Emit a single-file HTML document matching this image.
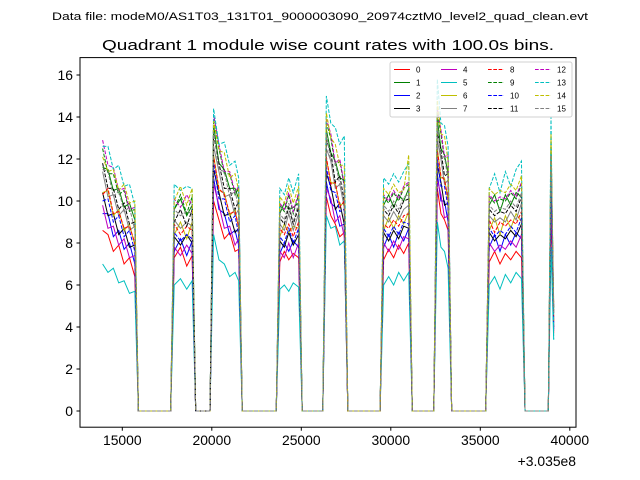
<!DOCTYPE html>
<html><head><meta charset="utf-8"><style>
html,body{margin:0;padding:0;background:#fff}
svg{display:block;font-family:"Liberation Sans","DejaVu Sans",sans-serif}
</style></head><body>
<svg id="chart" width="640" height="480" viewBox="0 0 640 480" xmlns="http://www.w3.org/2000/svg">
<rect x="0" y="0" width="640" height="480" fill="#fff"/>
<text x="320" y="20" text-anchor="middle" font-size="11" textLength="536" lengthAdjust="spacingAndGlyphs">Data file: modeM0/AS1T03_131T01_9000003090_20974cztM0_level2_quad_clean.evt</text>
<text x="328" y="50" text-anchor="middle" font-size="15" textLength="452" lengthAdjust="spacingAndGlyphs">Quadrant 1 module wise count rates with 100.0s bins.</text>
<defs><clipPath id="clip"><rect x="80" y="57.6" width="496" height="369.6"/></clipPath></defs>
<g id="series" clip-path="url(#clip)"></g>
<g id="axes"></g>
<rect x="80" y="57.6" width="496" height="369.6" fill="none" stroke="#000" stroke-width="1"/>
<g id="legend"></g>
<text x="576" y="466" text-anchor="end" font-size="13.9">+3.035e8</text>
</svg>
<script>
const times=[13900,14200,14500,14800,15100,15400,15700,15900,17700,17900,18250,18600,18900,19100,19900,20100,20400,20700,21000,21300,21500,21700,23600,23800,24050,24300,24550,24850,25050,26200,26400,26650,26900,27150,27400,27600,29400,29600,29880,30160,30440,30720,31000,31200,32400,32600,32800,33000,33200,33400,35300,35500,35800,36100,36400,36700,37000,37300,37500,38800,38950,39100];
const s0=[8.6,8.4,7.6,7.9,7.0,7.3,6.4,0,0,7.3,7.8,6.9,7.4,0,0,10.0,9.1,8.2,8.5,7.6,7.7,0,0,7.1,7.6,7.2,7.5,7.3,0,0,10.2,9.3,8.9,8.3,8.5,0,0,7.2,7.7,7.3,7.9,7.5,8.0,0,0,10.6,9.4,9.1,8.6,0,0,7.1,7.6,7.0,7.5,7.2,7.6,7.3,0,0,9.5,3.7];
const s1=[11.6,11.5,10.5,10.6,9.7,9.9,9.1,0,0,9.6,10.1,9.3,9.8,0,0,13.6,11.8,11.5,10.6,10.6,10.1,0,0,9.4,9.9,9.6,9.7,9.9,0,0,13.4,12.3,11.9,11.1,11.0,0,0,9.8,10.3,9.7,10.3,10.0,10.6,0,0,13.9,12.5,12.2,11.3,0,0,9.8,10.3,9.5,10.3,9.8,10.4,10.2,0,0,12.5,4.8];
const s2=[9.4,9.4,8.3,8.6,7.7,8.0,7.0,0,0,7.6,8.2,7.4,8.1,0,0,11.1,9.6,9.4,8.4,8.6,7.9,0,0,7.5,8.0,7.6,8.1,7.8,0,0,10.9,9.9,9.7,8.8,8.9,0,0,7.8,8.4,7.8,8.5,8.1,8.7,0,0,11.3,10.0,10.0,9.0,0,0,7.8,8.4,7.6,8.4,7.9,8.5,8.2,0,0,10.1,3.9];
const s3=[10.4,9.3,9.4,8.4,8.7,7.8,7.9,0,0,8.3,7.9,8.4,8.0,0,0,11.5,10.4,9.3,9.4,8.5,8.7,0,0,8.1,7.8,8.5,7.9,8.4,0,0,11.3,10.7,9.6,9.9,8.9,0,0,8.5,8.1,8.6,8.2,8.8,8.7,0,0,11.7,10.9,9.8,9.9,0,0,8.5,8.1,8.4,8.2,8.6,8.3,8.9,0,0,10.5,4.0];
const s4=[9.8,8.7,8.8,7.9,8.2,7.3,7.4,0,0,7.8,7.4,7.9,7.5,0,0,10.8,9.8,8.7,8.8,7.9,8.2,0,0,7.6,7.3,8.0,7.3,8.0,0,0,10.6,10.1,9.0,9.3,8.3,0,0,8.0,7.6,8.1,7.7,8.3,8.2,0,0,11.0,10.3,9.2,9.3,0,0,8.0,7.6,7.9,7.7,8.1,7.8,8.4,0,0,9.9,3.8];
const s5=[7.0,6.6,6.8,6.1,6.2,5.6,5.7,0,0,6.0,6.3,5.8,6.2,0,0,8.4,7.2,7.0,6.4,6.6,6.2,0,0,5.8,6.0,5.7,6.1,5.9,0,0,9.3,8.7,8.8,7.9,8.1,0,0,6.0,6.4,6.0,6.6,6.2,6.6,0,0,9.0,7.8,7.6,6.8,0,0,6.0,6.4,5.8,6.5,6.1,6.6,6.3,0,0,7.8,3.4];
const s6=[10.4,10.5,9.3,9.6,8.6,8.9,7.9,0,0,8.4,9.0,8.2,9.0,0,0,12.2,10.5,10.4,9.3,9.6,8.7,0,0,8.3,8.9,8.5,8.8,8.7,0,0,12.0,10.9,10.8,9.8,9.9,0,0,8.6,9.2,8.7,9.3,8.9,9.5,0,0,12.5,11.1,11.1,10.0,0,0,8.6,9.2,8.4,9.3,8.7,9.4,9.0,0,0,11.2,4.3];
const s7=[11.4,10.2,10.3,9.3,9.6,8.6,8.8,0,0,9.1,8.7,9.0,8.8,0,0,12.6,11.4,10.2,10.3,9.3,9.6,0,0,8.9,8.6,9.4,8.6,9.4,0,0,12.5,11.9,10.6,10.8,9.7,0,0,9.3,9.0,9.5,9.1,9.6,9.8,0,0,12.9,12.0,10.8,11.0,0,0,9.3,9.0,9.2,9.0,9.5,9.1,9.9,0,0,11.6,4.4];
const s8=[10.3,10.6,9.4,9.5,8.7,8.8,8.0,0,0,8.9,8.4,8.8,8.6,0,0,12.1,10.6,10.3,9.4,9.5,8.8,0,0,8.7,8.4,8.9,8.3,9.0,0,0,12.1,10.8,10.9,9.7,10.0,0,0,8.9,8.7,9.1,8.8,9.3,9.4,0,0,12.4,11.2,11.0,10.1,0,0,9.1,8.5,9.0,8.8,9.1,8.9,9.5,0,0,11.1,4.3];
const s9=[12.5,11.3,11.3,10.3,10.5,9.5,9.6,0,0,9.6,10.3,9.4,10.2,0,0,13.9,12.5,11.3,11.3,10.3,10.6,0,0,9.8,9.5,10.3,9.4,10.3,0,0,13.7,13.0,11.7,11.9,10.7,0,0,10.2,9.9,10.4,10.0,10.6,10.8,0,0,14.2,13.2,12.0,12.1,0,0,10.2,9.9,10.1,10.0,10.4,10.1,10.8,0,0,12.7,4.9];
const s10=[10.0,10.1,9.0,9.3,8.3,8.6,7.6,0,0,8.5,8.1,8.4,8.2,0,0,11.8,10.1,10.1,9.0,9.3,8.4,0,0,8.3,8.0,8.7,8.0,8.7,0,0,11.6,10.5,10.4,9.5,9.6,0,0,8.7,8.3,8.8,8.4,9.0,8.9,0,0,12.0,10.7,10.7,9.7,0,0,8.7,8.3,8.6,8.4,8.8,8.5,9.2,0,0,10.8,4.2];
const s11=[11.8,10.6,10.6,9.6,9.9,8.9,9.0,0,0,9.0,9.6,8.8,9.6,0,0,13.1,11.8,10.6,10.6,9.6,10.0,0,0,9.2,8.9,9.7,8.9,9.7,0,0,12.9,12.3,10.9,11.2,10.0,0,0,9.6,9.3,9.8,9.4,10.0,10.1,0,0,13.3,12.4,11.2,11.3,0,0,9.6,9.3,9.5,9.4,9.8,9.5,10.2,0,0,12.0,4.6];
const s12=[12.9,11.7,11.6,10.5,10.6,9.6,9.7,0,0,10.1,9.7,10.3,9.8,0,0,14.1,12.7,11.4,11.4,10.4,10.7,0,0,9.9,9.6,10.4,9.5,10.4,0,0,13.9,13.2,11.8,12.0,10.8,0,0,10.3,10.0,10.5,10.1,10.7,10.9,0,0,14.4,13.4,12.1,12.2,0,0,10.3,10.0,10.2,10.1,10.5,10.2,10.9,0,0,12.9,5.0];
const s13=[12.6,12.6,11.5,11.7,10.7,10.8,9.8,0,0,10.8,10.5,10.7,10.6,0,0,14.4,12.7,12.8,11.7,11.9,11.1,0,0,10.6,10.3,11.1,10.4,11.3,0,0,15.0,13.7,13.5,12.7,13.1,0,0,11.1,10.8,11.3,10.9,11.4,11.8,0,0,15.8,13.7,13.6,12.6,0,0,10.6,11.3,10.4,11.4,10.7,11.5,11.9,0,0,14.0,3.4];
const s14=[12.1,11.4,11.5,10.5,10.8,9.9,10.0,0,0,10.0,10.7,9.8,10.6,0,0,13.8,12.4,12.3,11.1,11.3,10.5,0,0,10.2,9.9,10.7,9.9,10.7,0,0,14.2,13.0,12.7,11.7,11.7,0,0,10.6,10.3,10.8,10.4,10.5,12.2,0,0,14.8,13.2,13.1,11.9,0,0,10.6,10.3,10.5,10.4,10.8,10.5,11.2,0,0,13.2,5.1];
const s15=[11.5,11.4,10.2,10.5,9.5,9.7,8.6,0,0,9.6,9.3,9.5,9.4,0,0,13.3,11.5,11.4,10.2,10.5,9.6,0,0,9.4,9.1,9.9,9.0,9.9,0,0,13.2,11.9,11.8,10.8,10.8,0,0,9.8,9.5,10.0,9.6,10.2,10.3,0,0,13.6,12.1,12.1,11.0,0,0,9.8,9.5,9.7,9.6,10.0,9.7,10.4,0,0,12.2,4.7];
const seriesValues=[s0,s1,s2,s3,s4,s5,s6,s7,s8,s9,s10,s11,s12,s13,s14,s15];
const seriesLabels=["0","1","2","3","4","5","6","7","8","9","10","11","12","13","14","15"];
const xTicks=[15000,20000,25000,30000,35000,40000];
const yTicks=[0,2,4,6,8,10,12,14,16];

const colors=["#ff0000","#008000","#0000ff","#000000","#bf00bf","#00bfbf","#bfbf00","#808080"];
const NS="http://www.w3.org/2000/svg";
function xs(v){return 122.3+(v-15000)*0.0179;}
function ys(v){return 411-21*v;}
const sg=document.getElementById('series');
seriesValues.forEach((vals,i)=>{
  const p=document.createElementNS(NS,'polyline');
  p.setAttribute('points',vals.map((v,k)=>xs(times[k]).toFixed(2)+','+ys(v).toFixed(2)).join(' '));
  p.setAttribute('fill','none');
  p.setAttribute('stroke',colors[i%8]);
  p.setAttribute('stroke-width','1');
  if(i>=8)p.setAttribute('stroke-dasharray','3.7,1.6');
  
  
  sg.appendChild(p);
});
const ax=document.getElementById('axes');
xTicks.forEach(t=>{
  const x=xs(t);
  const l=document.createElementNS(NS,'line');
  l.setAttribute('x1',x);l.setAttribute('x2',x);l.setAttribute('y1',427.2);l.setAttribute('y2',430.7);
  l.setAttribute('stroke','#000');
  
  
  ax.appendChild(l);
  const tx=document.createElementNS(NS,'text');
  tx.setAttribute('x',x);tx.setAttribute('y',445);tx.setAttribute('text-anchor','middle');tx.setAttribute('font-size','13.9');
  tx.textContent=t;
  
  
  ax.appendChild(tx);
});
yTicks.forEach(t=>{
  const y=ys(t);
  const l=document.createElementNS(NS,'line');
  l.setAttribute('x1',76.5);l.setAttribute('x2',80);l.setAttribute('y1',y);l.setAttribute('y2',y);
  l.setAttribute('stroke','#000');
  
  
  ax.appendChild(l);
  const tx=document.createElementNS(NS,'text');
  tx.setAttribute('x',73);tx.setAttribute('y',y+5);tx.setAttribute('text-anchor','end');tx.setAttribute('font-size','13.9');
  tx.textContent=t;
  
  
  ax.appendChild(tx);
});
const lg=document.getElementById('legend');
const box=document.createElementNS(NS,'rect');
box.setAttribute('x',390);box.setAttribute('y',62);box.setAttribute('width',182);box.setAttribute('height',55);
box.setAttribute('rx',2);box.setAttribute('fill','#fff');box.setAttribute('fill-opacity','0.8');box.setAttribute('stroke','#d0d0d0');


lg.appendChild(box);
seriesLabels.forEach((lab,i)=>{
  const col=Math.floor(i/4),row=i%4;
  const x0=394+col*47,y0=69.5+row*13;
  const l=document.createElementNS(NS,'line');
  l.setAttribute('x1',x0);l.setAttribute('x2',x0+16);l.setAttribute('y1',y0);l.setAttribute('y2',y0);
  l.setAttribute('stroke',colors[i%8]);l.setAttribute('stroke-width','1');
  if(i>=8)l.setAttribute('stroke-dasharray','3.7,1.6');
  
  
  lg.appendChild(l);
  const tx=document.createElementNS(NS,'text');
  tx.setAttribute('x',x0+22);tx.setAttribute('y',y0+3);tx.setAttribute('font-size','8');
  tx.textContent=lab;
  
  
  lg.appendChild(tx);
});
</script>
</body></html>
